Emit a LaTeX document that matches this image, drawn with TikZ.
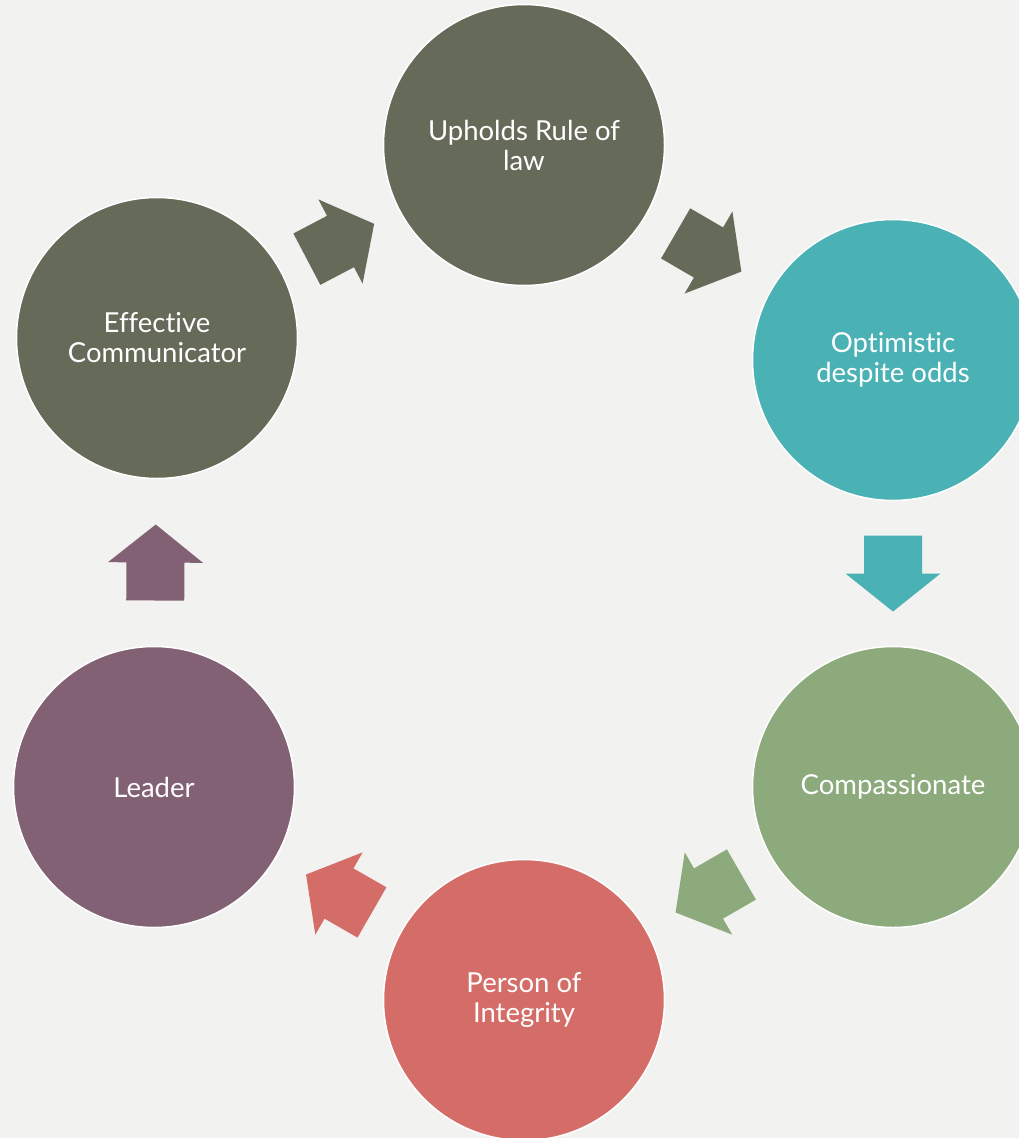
\documentclass[tikz,border=0pt]{standalone}
\usepackage{fontspec}
\setmainfont{Lato}[Ligatures=NoCommon]
\usetikzlibrary{calc}

\definecolor{paper}{HTML}{F2F2F0}
\definecolor{olive}{HTML}{666A59}
\definecolor{teal}{HTML}{4AB1B5}
\definecolor{sage}{HTML}{8DAA7D}
\definecolor{coral}{HTML}{D46D68}
\definecolor{plum}{HTML}{826175}

\begin{document}
\begin{tikzpicture}
[x=1pt,y=1pt,disc/.style={circle,draw=white,line width=1.5pt,minimum size=281pt,inner sep=0pt,text=white,align=center,font=\fontsize{27.5}{30}\selectfont}]

% page
\clip (0,0) rectangle (1019,-1138);
\fill[paper] (0,0) rectangle (1019,-1138);

% Upholds Rule of law
\node[disc,fill=olive](law) at (524,-145){Upholds Rule of\\law};

% Optimistic
\node[disc,fill=teal](opt) at (893,-360){Optimistic\\despite odds};

% Compassionate
\node[disc,fill=sage](comp) at (893,-787){Compassionate};

% Person of Integrity
\node[disc,fill=coral](integ) at (524,-1000){Person of\\Integrity};

% Leader
\node[disc,fill=plum](lead) at (154,-787){Leader};

% Effective Communicator
\node[disc,fill=olive](comm) at (157,-338){Effective\\Communicator};

% block arrows between the discs
\foreach \a/\b/\ang/\col in {law/opt/-30.2/olive,opt/comp/-90/teal,comp/integ/-150/sage,integ/lead/150.1/coral,lead/comm/89.6/plum,comm/law/27.7/olive}{
  \begin{scope}[shift={($(\a)!0.5!(\b)$)},rotate=\ang]
    \fill[\col] (-38,29) -- (0,29) -- (0,47.5) -- (38,0) -- (0,-47.5) -- (0,-29) -- (-38,-29) -- cycle;
  \end{scope}
}

\end{tikzpicture}
\end{document}
